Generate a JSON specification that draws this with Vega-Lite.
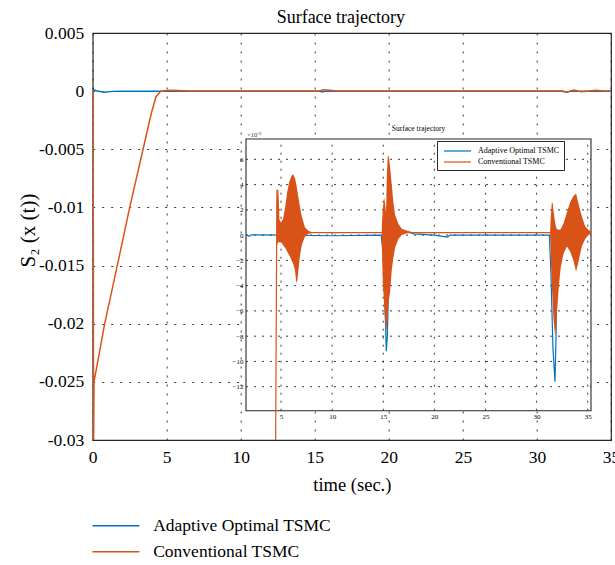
{
  "$schema": "https://vega.github.io/schema/vega-lite/v6.json",
  "autosize": {"type": "none"},
  "padding": {"left": 92.7, "top": 33, "right": 4, "bottom": 125},
  "width": 518.3,
  "height": 407,
  "config": {
    "font": "Liberation Serif",
    "view": {"stroke": "#262626", "strokeWidth": 1.2},
    "axis": {"labelColor": "#000", "titleColor": "#000", "labelFont": "Liberation Serif", "titleFont": "Liberation Serif", "titleFontWeight": "normal"},
    "legend": {"labelFont": "Liberation Serif", "labelColor": "#000"}
  },
  "title": {"text": "Surface trajectory", "fontSize": 18, "fontWeight": "normal", "font": "Liberation Serif", "color": "#000", "frame": "group", "dx": -11, "offset": -3},
  "datasets": {
    "one": [{}],
    "xticks": [{"v": 5}, {"v": 10}, {"v": 15}, {"v": 20}, {"v": 25}, {"v": 30}, {"v": 35}],
    "yticks": [{"v": -12}, {"v": -10}, {"v": -8}, {"v": -6}, {"v": -4}, {"v": -2}, {"v": 0}, {"v": 2}, {"v": 4}, {"v": 6}],
    "main": [
      {"t": 0, "v": 0.00015, "s": "Adaptive Optimal TSMC"},
      {"t": 0.3, "v": 0.00002, "s": "Adaptive Optimal TSMC"},
      {"t": 0.8, "v": -0.0001, "s": "Adaptive Optimal TSMC"},
      {"t": 1.3, "v": -0.00002, "s": "Adaptive Optimal TSMC"},
      {"t": 2, "v": 0, "s": "Adaptive Optimal TSMC"},
      {"t": 15.3, "v": 0, "s": "Adaptive Optimal TSMC"},
      {"t": 15.5, "v": -0.00008, "s": "Adaptive Optimal TSMC"},
      {"t": 15.7, "v": 0, "s": "Adaptive Optimal TSMC"},
      {"t": 31.8, "v": 0, "s": "Adaptive Optimal TSMC"},
      {"t": 32, "v": -0.0001, "s": "Adaptive Optimal TSMC"},
      {"t": 32.3, "v": 0, "s": "Adaptive Optimal TSMC"},
      {"t": 35, "v": 0, "s": "Adaptive Optimal TSMC"},
      {"t": 0.03, "v": 0, "s": "Conventional TSMC"},
      {"t": 0.06, "v": -0.0305, "s": "Conventional TSMC"},
      {"t": 0.09, "v": -0.025, "s": "Conventional TSMC"},
      {"t": 0.81, "v": -0.02, "s": "Conventional TSMC"},
      {"t": 1.66, "v": -0.015, "s": "Conventional TSMC"},
      {"t": 2.5, "v": -0.01, "s": "Conventional TSMC"},
      {"t": 3.4, "v": -0.005, "s": "Conventional TSMC"},
      {"t": 3.96, "v": -0.0019, "s": "Conventional TSMC"},
      {"t": 4.27, "v": -0.0005, "s": "Conventional TSMC"},
      {"t": 4.59, "v": 0, "s": "Conventional TSMC"},
      {"t": 5.2, "v": 0.00008, "s": "Conventional TSMC"},
      {"t": 5.8, "v": 0.00005, "s": "Conventional TSMC"},
      {"t": 6.5, "v": 0.00002, "s": "Conventional TSMC"},
      {"t": 15.3, "v": 0.00002, "s": "Conventional TSMC"},
      {"t": 15.6, "v": 0.00012, "s": "Conventional TSMC"},
      {"t": 16, "v": 0.00008, "s": "Conventional TSMC"},
      {"t": 16.5, "v": 0.00002, "s": "Conventional TSMC"},
      {"t": 31.6, "v": 0.00002, "s": "Conventional TSMC"},
      {"t": 32, "v": -0.0001, "s": "Conventional TSMC"},
      {"t": 32.5, "v": 0.0001, "s": "Conventional TSMC"},
      {"t": 33, "v": -0.00006, "s": "Conventional TSMC"},
      {"t": 34, "v": 0.00008, "s": "Conventional TSMC"},
      {"t": 34.5, "v": 0.00002, "s": "Conventional TSMC"},
      {"t": 35, "v": 0.00002, "s": "Conventional TSMC"}
    ],
    "inset": [
      {"t": 1.575, "v": 0.05, "s": "Adaptive Optimal TSMC"},
      {"t": 1.9, "v": -0.1, "s": "Adaptive Optimal TSMC"},
      {"t": 2.1, "v": 0.02, "s": "Adaptive Optimal TSMC"},
      {"t": 5, "v": 0, "s": "Adaptive Optimal TSMC"},
      {"t": 10, "v": -0.05, "s": "Adaptive Optimal TSMC"},
      {"t": 14.8, "v": 0, "s": "Adaptive Optimal TSMC"},
      {"t": 15.0, "v": -1.5, "s": "Adaptive Optimal TSMC"},
      {"t": 15.15, "v": -5, "s": "Adaptive Optimal TSMC"},
      {"t": 15.3, "v": -9.2, "s": "Adaptive Optimal TSMC"},
      {"t": 15.4, "v": -8.0, "s": "Adaptive Optimal TSMC"},
      {"t": 15.5, "v": -4.5, "s": "Adaptive Optimal TSMC"},
      {"t": 15.65, "v": -1, "s": "Adaptive Optimal TSMC"},
      {"t": 15.9, "v": 0.2, "s": "Adaptive Optimal TSMC"},
      {"t": 16.5, "v": 0.4, "s": "Adaptive Optimal TSMC"},
      {"t": 17.3, "v": 0.3, "s": "Adaptive Optimal TSMC"},
      {"t": 18, "v": 0.1, "s": "Adaptive Optimal TSMC"},
      {"t": 20, "v": 0, "s": "Adaptive Optimal TSMC"},
      {"t": 21.3, "v": -0.15, "s": "Adaptive Optimal TSMC"},
      {"t": 21.5, "v": 0, "s": "Adaptive Optimal TSMC"},
      {"t": 25, "v": 0, "s": "Adaptive Optimal TSMC"},
      {"t": 31.25, "v": 0, "s": "Adaptive Optimal TSMC"},
      {"t": 31.4, "v": -3, "s": "Adaptive Optimal TSMC"},
      {"t": 31.6, "v": -9, "s": "Adaptive Optimal TSMC"},
      {"t": 31.8, "v": -11.6, "s": "Adaptive Optimal TSMC"},
      {"t": 31.9, "v": -8, "s": "Adaptive Optimal TSMC"},
      {"t": 32.0, "v": -2, "s": "Adaptive Optimal TSMC"},
      {"t": 32.2, "v": 0.4, "s": "Adaptive Optimal TSMC"},
      {"t": 33, "v": 0.3, "s": "Adaptive Optimal TSMC"},
      {"t": 34, "v": 0.2, "s": "Adaptive Optimal TSMC"},
      {"t": 35.32, "v": 0.2, "s": "Adaptive Optimal TSMC"},
      {"t": 4.45, "v": -20, "s": "Conventional TSMC"},
      {"t": 4.6, "v": 3.6, "s": "Conventional TSMC"},
      {"t": 4.7, "v": 0.2, "s": "Conventional TSMC"},
      {"t": 35.32, "v": 0.2, "s": "Conventional TSMC"}
    ],
    "bursts": [
      {"b": 1, "t": 4.58, "lo": -0.5, "hi": 2.4},
      {"b": 1, "t": 4.65, "lo": -0.8, "hi": 3.6},
      {"b": 1, "t": 4.75, "lo": -0.5, "hi": 3.6},
      {"b": 1, "t": 4.85, "lo": -0.6, "hi": 1.2},
      {"b": 1, "t": 5.0, "lo": -0.5, "hi": 1.0},
      {"b": 1, "t": 5.2, "lo": -0.8, "hi": 1.3},
      {"b": 1, "t": 5.4, "lo": -1.0, "hi": 2.2},
      {"b": 1, "t": 5.6, "lo": -1.3, "hi": 3.4},
      {"b": 1, "t": 5.8, "lo": -1.6, "hi": 4.2},
      {"b": 1, "t": 6.05, "lo": -2.0, "hi": 4.75},
      {"b": 1, "t": 6.2, "lo": -2.3, "hi": 4.8},
      {"b": 1, "t": 6.37, "lo": -2.8, "hi": 4.5},
      {"b": 1, "t": 6.5, "lo": -3.8, "hi": 4.0},
      {"b": 1, "t": 6.6, "lo": -3.6, "hi": 3.5},
      {"b": 1, "t": 6.7, "lo": -2.8, "hi": 3.0},
      {"b": 1, "t": 6.86, "lo": -1.6, "hi": 2.2},
      {"b": 1, "t": 7.03, "lo": -0.8, "hi": 1.5},
      {"b": 1, "t": 7.2, "lo": -0.4, "hi": 1.0},
      {"b": 1, "t": 7.35, "lo": -0.1, "hi": 0.6},
      {"b": 1, "t": 7.67, "lo": 0.1, "hi": 0.35},
      {"b": 1, "t": 8.0, "lo": 0.15, "hi": 0.25},
      {"b": 2, "t": 14.85, "lo": -0.5, "hi": 0.5},
      {"b": 2, "t": 14.95, "lo": -3.5, "hi": 2.0},
      {"b": 2, "t": 15.08, "lo": -5.5, "hi": 3.0},
      {"b": 2, "t": 15.18, "lo": -6.8, "hi": 2.5},
      {"b": 2, "t": 15.27, "lo": -7.7, "hi": 1.8},
      {"b": 2, "t": 15.36, "lo": -7.2, "hi": 5.0},
      {"b": 2, "t": 15.45, "lo": -6.0, "hi": 6.3},
      {"b": 2, "t": 15.55, "lo": -5.2, "hi": 6.2},
      {"b": 2, "t": 15.67, "lo": -4.5, "hi": 5.4},
      {"b": 2, "t": 15.83, "lo": -2.8, "hi": 4.0},
      {"b": 2, "t": 15.99, "lo": -1.8, "hi": 2.6},
      {"b": 2, "t": 16.16, "lo": -1.0, "hi": 1.6},
      {"b": 2, "t": 16.48, "lo": -0.3, "hi": 0.9},
      {"b": 2, "t": 16.81, "lo": 0.0, "hi": 0.5},
      {"b": 2, "t": 17.3, "lo": 0.15, "hi": 0.35},
      {"b": 2, "t": 17.8, "lo": 0.2, "hi": 0.25},
      {"b": 3, "t": 31.32, "lo": 0.1, "hi": 0.3},
      {"b": 3, "t": 31.39, "lo": -2.0, "hi": 1.5},
      {"b": 3, "t": 31.49, "lo": -4.0, "hi": 2.6},
      {"b": 3, "t": 31.58, "lo": -5.5, "hi": 2.5},
      {"b": 3, "t": 31.64, "lo": -6.5, "hi": 2.0},
      {"b": 3, "t": 31.81, "lo": -8.0, "hi": 1.0},
      {"b": 3, "t": 31.91, "lo": -7.2, "hi": 0.6},
      {"b": 3, "t": 31.98, "lo": -6.3, "hi": 0.5},
      {"b": 3, "t": 32.13, "lo": -4.5, "hi": 0.4},
      {"b": 3, "t": 32.3, "lo": -3.0, "hi": 0.4},
      {"b": 3, "t": 32.37, "lo": -2.5, "hi": 0.5},
      {"b": 3, "t": 32.62, "lo": -1.5, "hi": 0.9},
      {"b": 3, "t": 32.96, "lo": -0.9, "hi": 1.8},
      {"b": 3, "t": 33.28, "lo": -1.3, "hi": 2.6},
      {"b": 3, "t": 33.6, "lo": -2.0, "hi": 3.1},
      {"b": 3, "t": 33.86, "lo": -2.9, "hi": 3.3},
      {"b": 3, "t": 34.09, "lo": -2.1, "hi": 2.5},
      {"b": 3, "t": 34.42, "lo": -0.9, "hi": 1.5},
      {"b": 3, "t": 34.75, "lo": -0.3, "hi": 0.7},
      {"b": 3, "t": 35.07, "lo": 0.0, "hi": 0.4},
      {"b": 3, "t": 35.32, "lo": 0.1, "hi": 0.3}
    ]
  },
  "layer": [
    {
      "data": {"name": "main"},
      "mark": {"type": "line", "strokeWidth": 1.5, "clip": true},
      "encoding": {
        "x": {"field": "t", "type": "quantitative",
          "scale": {"domain": [0, 35], "nice": false, "zero": false},
          "axis": {"values": [0, 5, 10, 15, 20, 25, 30, 35], "format": "d", "title": "time (sec.)", "titleFontSize": 18.5, "titlePadding": 10, "labelFontSize": 17.5, "labelPadding": 8, "ticks": false, "domain": false, "grid": true, "gridColor": "#262626", "gridDash": [2, 7], "gridWidth": 1, "gridOpacity": 0.9, "labelFlush": false}},
        "y": {"field": "v", "type": "quantitative",
          "scale": {"domain": [-0.03, 0.005], "nice": false, "zero": false},
          "axis": {"values": [-0.03, -0.025, -0.02, -0.015, -0.01, -0.005, 0, 0.005], "labelExpr": "replace(format(datum.value, '.3~f'), '\u2212', '-')", "title": "S\u2082 (x (t))", "titleFontSize": 21, "titleX": -64, "titleY": 197, "titleAngle": -90, "titleAlign": "center", "titleBaseline": "middle", "labelFontSize": 17.5, "labelPadding": 9, "ticks": false, "domain": false, "grid": true, "gridColor": "#262626", "gridDash": [2, 7], "gridWidth": 1, "gridOpacity": 0.9, "labelFlush": false}},
        "color": {"field": "s", "type": "nominal",
          "scale": {"domain": ["Adaptive Optimal TSMC", "Conventional TSMC"], "range": ["#0072BD", "#D95319"]},
          "legend": {"orient": "none", "legendX": -4, "legendY": 484, "title": null, "direction": "vertical", "symbolType": "M-1,0H8.4", "symbolSize": 100, "symbolStrokeWidth": 1.5, "labelFontSize": 17.5, "labelLimit": 400, "labelOffset": 47, "rowPadding": 7, "padding": 0}}
      }
    },
    {
      "layer": [
        {
          "data": {"name": "one"},
          "mark": {"type": "rect", "fill": "white", "stroke": "#262626", "strokeWidth": 1.1},
          "encoding": {
            "x": {"datum": 1.575, "type": "quantitative",
              "scale": {"domain": [1.575, 35.32], "range": [153.3, 498.3], "nice": false, "zero": false},
              "axis": {"orient": "bottom", "offset": -29.3, "zindex": 1, "values": [5, 10, 15, 20, 25, 30, 35], "format": "d", "title": null, "labelFontSize": 7, "labelPadding": 2, "ticks": false, "domain": false, "grid": false, "labelFlush": false}},
            "x2": {"datum": 35.32},
            "y": {"datum": -13.9, "type": "quantitative",
              "scale": {"domain": [-13.9, 7.61], "range": [377.7, 106], "nice": false, "zero": false},
              "axis": {"orient": "left", "offset": -153.3, "zindex": 1, "values": [-12, -10, -8, -6, -4, -2, 0, 2, 4, 6], "title": null, "labelFontSize": 7, "labelPadding": 3, "ticks": false, "domain": false, "grid": false, "labelFlush": false}},
            "y2": {"datum": 7.61}
          }
        },
        {
          "data": {"name": "xticks"},
          "mark": {"type": "rule", "color": "#262626", "strokeDash": [2, 6], "strokeWidth": 1, "opacity": 0.9},
          "encoding": {
            "x": {"field": "v", "type": "quantitative", "axis": {"title": null}},
            "y": {"datum": -13.9, "type": "quantitative"},
            "y2": {"datum": 7.61}
          }
        },
        {
          "data": {"name": "yticks"},
          "mark": {"type": "rule", "color": "#262626", "strokeDash": [2, 6], "strokeWidth": 1, "opacity": 0.9},
          "encoding": {
            "y": {"field": "v", "type": "quantitative", "axis": {"title": null}},
            "x": {"datum": 1.575, "type": "quantitative"},
            "x2": {"datum": 35.32}
          }
        },
        {
          "data": {"name": "inset"},
          "mark": {"type": "line", "strokeWidth": 1.2, "clip": true},
          "encoding": {
            "x": {"field": "t", "type": "quantitative", "axis": {"title": null}},
            "y": {"field": "v", "type": "quantitative", "axis": {"title": null}},
            "color": {"field": "s", "type": "nominal",
              "scale": {"domain": ["Adaptive Optimal TSMC", "Conventional TSMC"], "range": ["#0072BD", "#D95319"]},
              "legend": {"orient": "none", "legendX": 344.3, "legendY": 108, "title": null, "direction": "vertical", "symbolType": "M-1,0H4.4", "symbolSize": 100, "symbolStrokeWidth": 1.2, "symbolOffset": 2, "labelFontSize": 8, "labelLimit": 300, "labelOffset": 23, "rowPadding": 1, "padding": 4, "strokeColor": "#262626", "fillColor": "white"}}
          }
        },
        {
          "data": {"name": "bursts"},
          "mark": {"type": "area", "color": "#D95319", "opacity": 1, "clip": true},
          "encoding": {
            "x": {"field": "t", "type": "quantitative", "axis": {"title": null}},
            "y": {"field": "lo", "type": "quantitative", "axis": {"title": null}},
            "y2": {"field": "hi"},
            "detail": {"field": "b", "type": "nominal"}
          }
        },
        {
          "data": {"name": "one"},
          "mark": {"type": "text", "text": "Surface trajectory", "fontSize": 7.5, "baseline": "middle", "align": "center", "dy": -10, "color": "#000"},
          "encoding": {"x": {"datum": 18.45, "type": "quantitative"}, "y": {"datum": 7.61, "type": "quantitative"}}
        },
        {
          "data": {"name": "one"},
          "mark": {"type": "text", "text": "\u00d710\u207b\u00b3", "fontSize": 6.5, "baseline": "bottom", "align": "left", "dy": -1, "dx": 1, "color": "#333"},
          "encoding": {"x": {"datum": 1.575, "type": "quantitative"}, "y": {"datum": 7.61, "type": "quantitative"}}
        }
      ]
    }
  ],
  "resolve": {"scale": {"x": "independent", "y": "independent", "color": "independent"}}
}
